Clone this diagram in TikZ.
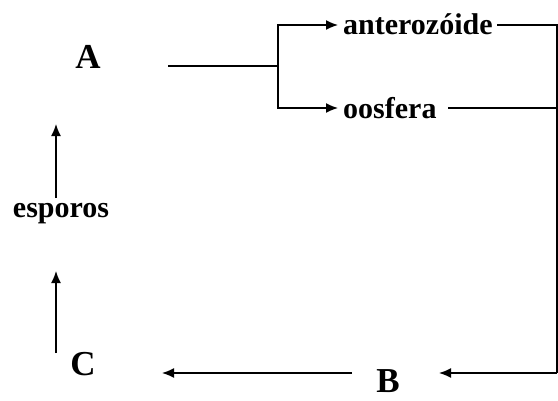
\documentclass[tikz,border=0pt]{standalone}
\usepackage{fontspec}
\setmainfont{Liberation Serif}
\usetikzlibrary{arrows.meta}
\begin{document}
\begin{tikzpicture}[x=1pt,y=-1pt,
  lbl/.style={font=\fontsize{30}{32}\selectfont\bfseries, inner sep=0pt},
  big/.style={font=\fontsize{35}{38}\selectfont\bfseries, inner sep=0pt},
  ln/.style={line width=1.5pt},
  arr/.style={ln, -{Latex[length=12pt,width=10pt]}}]
\useasboundingbox (0,0) rectangle (558,400);
\fill[white] (0,0) rectangle (558,400);
% labels
\node[big] (A) at (88,57) {A};
\node[big] (B) at (388,381) {B};
\node[big] (C) at (83,364) {C};
\node[lbl, anchor=base west] (ant) at (343,34) {anterozóide};
\node[lbl, anchor=base west] (oos) at (343,118) {oosfera};
\node[lbl, anchor=base] (esp) at (61,217) {esporos};
% coordinates
\coordinate (a1) at (168,66);
\coordinate (j) at (278,66);
\coordinate (j1) at (278,25);
\coordinate (j2) at (278,108);
\coordinate (t1) at (338,25);
\coordinate (t2) at (338,108);
\coordinate (e1) at (497,25);
\coordinate (e2) at (448,108);
\coordinate (r1) at (557,25);
\coordinate (r2) at (557,108);
\coordinate (r3) at (557,373);
\coordinate (bR) at (439,373);
\coordinate (bL) at (352,373);
\coordinate (cT) at (162,373);
\coordinate (v1) at (56,353);
\coordinate (v2) at (56,271);
\coordinate (v3) at (56,198);
\coordinate (v4) at (56,124);
% connectors
\draw[ln] (a1) -- (j);
\draw[arr] (j) -- (j1) -- (t1);
\draw[arr] (j) -- (j2) -- (t2);
\draw[ln] (e1) -- (r1) -- (r3);
\draw[ln] (e2) -- (r2);
\draw[arr] (r3) -- (bR);
\draw[arr] (bL) -- (cT);
\draw[arr] (v1) -- (v2);
\draw[arr] (v3) -- (v4);
\end{tikzpicture}
\end{document}
